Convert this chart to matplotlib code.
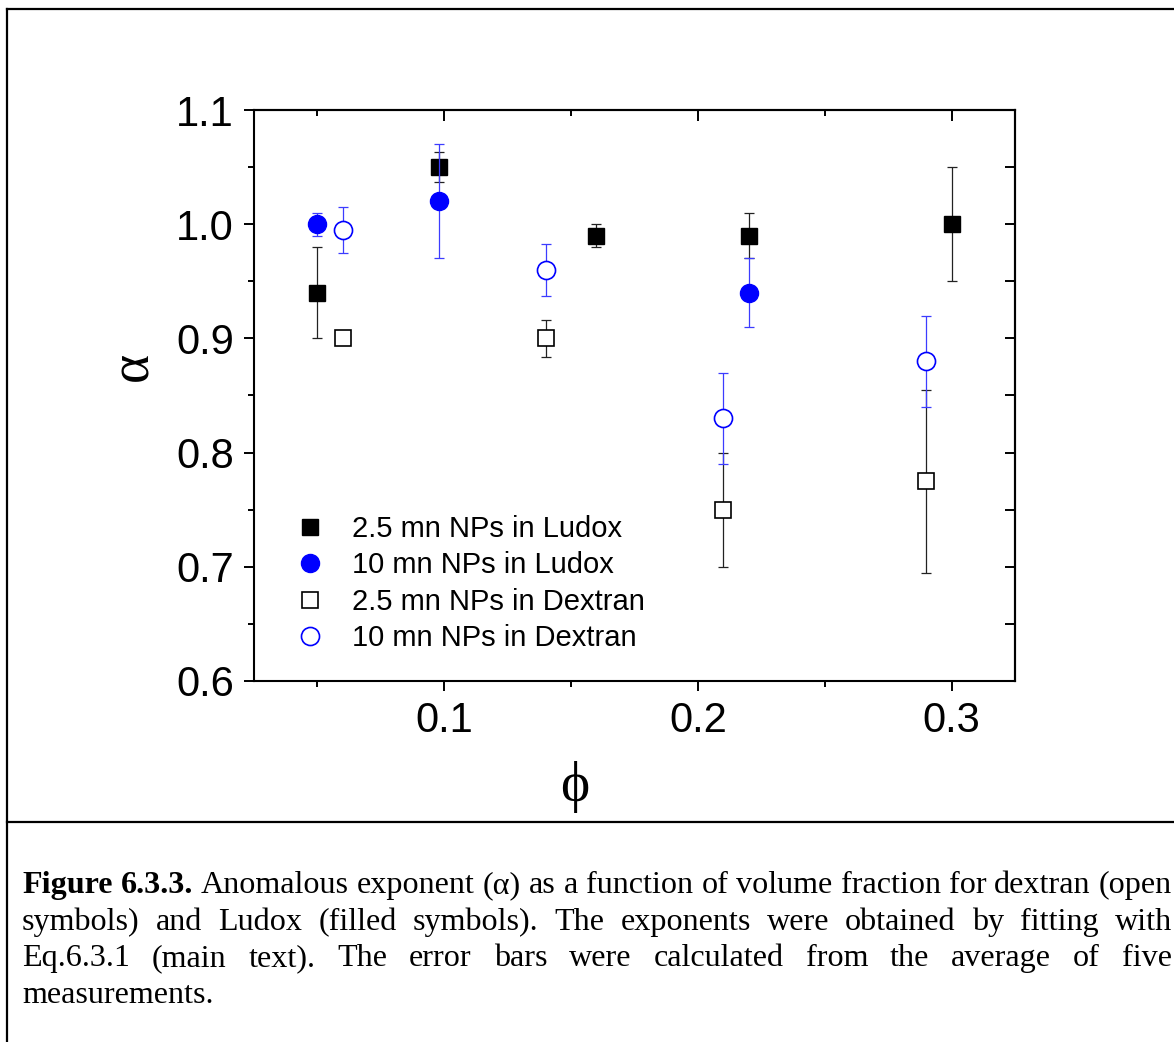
import matplotlib
matplotlib.use('Agg')
import matplotlib.pyplot as plt
from matplotlib.lines import Line2D
from matplotlib.ticker import MultipleLocator, FormatStrFormatter
from matplotlib.transforms import IdentityTransform

plt.rcParams['font.family'] = ['Liberation Sans', 'DejaVu Sans']

# ---------------- data ----------------
ludox25_phi = [0.05, 0.098, 0.16, 0.22, 0.30]
ludox25_alpha = [0.94, 1.05, 0.99, 0.99, 1.00]
ludox25_err = [0.04, 0.013, 0.01, 0.02, 0.05]

ludox10_phi = [0.05, 0.098, 0.22]
ludox10_alpha = [1.00, 1.02, 0.94]
ludox10_err = [0.01, 0.05, 0.03]

dex25_phi = [0.06, 0.14, 0.21, 0.29]
dex25_alpha = [0.90, 0.90, 0.75, 0.775]
dex25_err = [0.002, 0.016, 0.05, 0.08]

dex10_phi = [0.06, 0.14, 0.21, 0.29]
dex10_alpha = [0.995, 0.96, 0.83, 0.88]
dex10_err = [0.02, 0.023, 0.04, 0.04]

labels = ["2.5 mn NPs in Ludox", "10 mn NPs in Ludox",
          "2.5 mn NPs in Dextran", "10 mn NPs in Dextran"]

x_ticks = [0.1, 0.2, 0.3]
y_ticks = [0.6, 0.7, 0.8, 0.9, 1.0, 1.1]

caption_lines = [
    [("Figure", True), ("6.3.3.", True), ("Anomalous", False), ("exponent", False), ("(\u03b1)", False),
     ("as", False), ("a", False), ("function", False), ("of", False), ("volume", False), ("fraction", False),
     ("for", False), ("dextran", False), ("(open", False)],
    [(w, False) for w in "symbols) and Ludox (filled symbols). The exponents were obtained by fitting with".split()],
    [(w, False) for w in "Eq.6.3.1 (main text). The error bars were calculated from the average of five".split()],
    [(w, False) for w in "measurements.".split()],
]

# ---------------- figure ----------------
W, H = 1174, 1042
fig = plt.figure(figsize=(W / 100, H / 100), dpi=100)

ax_l, ax_r, ax_t, ax_b = 254, 1015, 110, 681
ax = fig.add_axes([ax_l / W, 1 - ax_b / H, (ax_r - ax_l) / W, (ax_b - ax_t) / H])

BLUE = '#0000ff'
BLUE_BAR = '#3c3cff'
BLACK_BAR = '#222222'
ms_sq = 11.5
ms_ci = 13

# black error bars + filled squares
ax.errorbar(ludox25_phi, ludox25_alpha, yerr=ludox25_err, fmt='none', ecolor=BLACK_BAR,
            elinewidth=0.9, capsize=3.6, capthick=0.9, zorder=2)
ax.plot(ludox25_phi, ludox25_alpha, ls='none', marker='s', ms=ms_sq, mfc='k', mec='k', zorder=3)
# open squares
ax.errorbar(dex25_phi, dex25_alpha, yerr=dex25_err, fmt='none', ecolor=BLACK_BAR,
            elinewidth=0.9, capsize=3.6, capthick=0.9, zorder=2)
ax.plot(dex25_phi, dex25_alpha, ls='none', marker='s', ms=ms_sq, mfc='white', mec='k', mew=1.2, zorder=3)
# blue
ax.errorbar(ludox10_phi, ludox10_alpha, yerr=ludox10_err, fmt='none', ecolor=BLUE_BAR,
            elinewidth=0.9, capsize=3.6, capthick=0.9, zorder=4)
ax.plot(ludox10_phi, ludox10_alpha, ls='none', marker='o', ms=ms_ci, mfc=BLUE, mec=BLUE, zorder=5)
ax.errorbar(dex10_phi, dex10_alpha, yerr=dex10_err, fmt='none', ecolor=BLUE_BAR,
            elinewidth=0.9, capsize=3.6, capthick=0.9, zorder=4)
ax.plot(dex10_phi, dex10_alpha, ls='none', marker='o', ms=ms_ci, mfc='white', mec=BLUE, mew=1.2, zorder=5)

ax.set_xlim(0.025, 0.325)
ax.set_ylim(0.6, 1.1)
ax.set_xticks(x_ticks)
ax.set_yticks(y_ticks)
ax.xaxis.set_minor_locator(MultipleLocator(0.05))
ax.yaxis.set_minor_locator(MultipleLocator(0.05))
ax.xaxis.set_major_formatter(FormatStrFormatter('%.1f'))
ax.yaxis.set_major_formatter(FormatStrFormatter('%.1f'))
ax.tick_params(which='major', direction='out', length=7.5, width=1.4, labelsize=30, pad=7)
ax.tick_params(which='minor', direction='out', length=4, width=1.4)
for s in ax.spines.values():
    s.set_linewidth(1.5)

secx = ax.secondary_xaxis('top')
secx.set_xticks(x_ticks)
secx.xaxis.set_minor_locator(MultipleLocator(0.05))
secx.tick_params(which='major', direction='in', length=8, width=1.4, labeltop=False)
secx.tick_params(which='minor', direction='in', length=4.5, width=1.4)
secx.spines['top'].set_linewidth(1.5)

secy = ax.secondary_yaxis('right')
secy.set_yticks(y_ticks)
secy.yaxis.set_minor_locator(MultipleLocator(0.05))
secy.tick_params(which='major', direction='in', length=7.5, width=1.4, labelright=False)
secy.tick_params(which='minor', direction='in', length=7.5, width=1.4)
secy.spines['right'].set_linewidth(1.5)

# legend
handles = [
    Line2D([], [], ls='none', marker='s', ms=ms_sq, mfc='k', mec='k'),
    Line2D([], [], ls='none', marker='o', ms=ms_ci, mfc=BLUE, mec=BLUE),
    Line2D([], [], ls='none', marker='s', ms=ms_sq, mfc='white', mec='k', mew=1.2),
    Line2D([], [], ls='none', marker='o', ms=ms_ci, mfc='white', mec=BLUE, mew=1.2),
]
ax.legend(handles, labels, loc='upper left', bbox_to_anchor=(295.5 / W, 1 - 515 / H),
          bbox_transform=fig.transFigure, frameon=False, prop={'family': 'Liberation Sans', 'size': 21},
          handlelength=1.0, handletextpad=0.94, labelspacing=0.29, borderpad=0, borderaxespad=0)

# axis labels
fig.text(133, H - 366, '\u03b1', rotation=90, fontsize=40, family='Liberation Serif',
         ha='center', va='center', transform=IdentityTransform())
fig.text(575, H - 787, '\u03d5', fontsize=40, family='Liberation Serif',
         ha='center', va='center', transform=IdentityTransform())

# frame lines
lw = 1.6
fig.add_artist(Line2D([7 / W, 1], [1 - 9 / H, 1 - 9 / H], transform=fig.transFigure, color='k', lw=lw))
fig.add_artist(Line2D([7 / W, 7 / W], [1 - 9 / H, 0], transform=fig.transFigure, color='k', lw=lw))
fig.add_artist(Line2D([7 / W, 1], [1 - 822 / H, 1 - 822 / H], transform=fig.transFigure, color='k', lw=lw))

# caption (justified)
fig.canvas.draw()
rend = fig.canvas.get_renderer()


def width(s, size, bold):
    t = fig.text(0, 0, s, fontsize=size, family='Liberation Serif',
                 weight='bold' if bold else 'normal', transform=IdentityTransform())
    w = t.get_window_extent(rend).width
    t.remove()
    return w


base = 19.0
sp = width('a a', base, False) - width('aa', base, False)
nat = sum(width(w, base, b) for w, b in caption_lines[0]) + sp * (len(caption_lines[0]) - 1)
x0, x1 = 22, 1172
size = base * (x1 - x0) / nat
sp = width('a a', size, False) - width('aa', size, False)

baselines = [893, 930, 966, 1003]
for li, (words, yb) in enumerate(zip(caption_lines, baselines)):
    ws = [width(w, size, b) for w, b in words]
    if li < len(caption_lines) - 1 and len(words) > 1:
        gap = (x1 - x0 - sum(ws)) / (len(words) - 1)
    else:
        gap = sp
    x = x0
    for (w, b), wd in zip(words, ws):
        fig.text(x, H - yb, w, fontsize=size, family='Liberation Serif',
                 weight='bold' if b else 'normal', ha='left', va='baseline',
                 transform=IdentityTransform())
        x += wd + gap

fig.savefig('out.png', dpi=100)
